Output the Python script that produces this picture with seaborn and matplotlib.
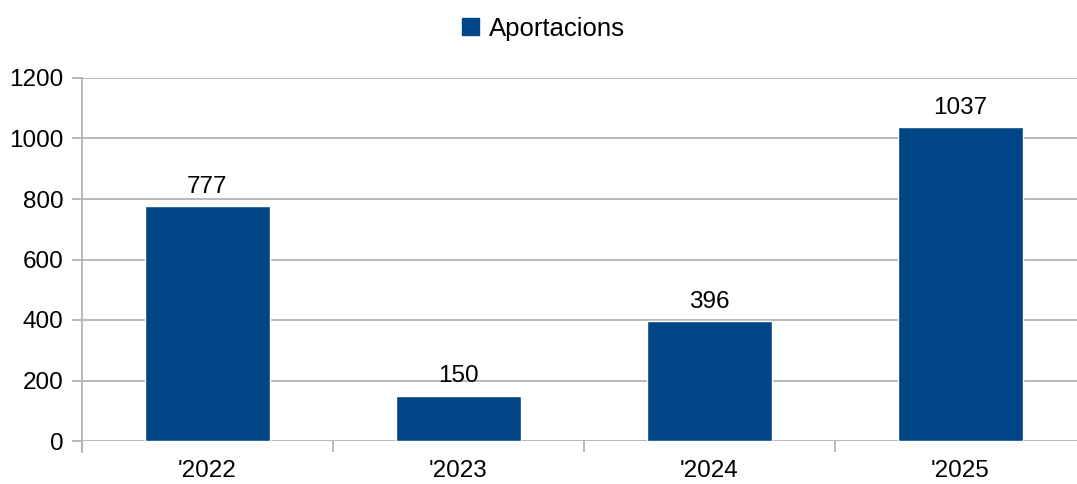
import pandas as pd
import matplotlib.pyplot as plt
import seaborn as sns
from matplotlib.patches import Patch

# Dades
anys = ["'2022", "'2023", "'2024", "'2025"]
aportacions = [777, 150, 396, 1037]
serie = "Aportacions"

df = pd.DataFrame({"Any": anys, serie: aportacions})

sns.set_style("white")
plt.rcParams['font.family'] = ['Liberation Sans', 'DejaVu Sans']
plt.rcParams['text.color'] = 'black'
plt.rcParams['xtick.color'] = 'black'
plt.rcParams['ytick.color'] = 'black'

blau = '#004586'
gris = '#b3b3b3'

fig = plt.figure(figsize=(10.77, 4.84), dpi=100)
# l'àrea del gràfic continua una mica més enllà de la vora dreta
ax = fig.add_axes([82 / 1077, 1 - 441 / 484, 1004 / 1077, 363 / 484])

sns.barplot(data=df, x="Any", y=serie, color=blau, width=0.5, saturation=1, ax=ax)

ax.set_xlim(-0.5, 3.5)
ax.set_ylim(0, 1200)
ax.set_yticks(range(0, 1201, 200))
ax.set_xlabel('')
ax.set_ylabel('')

ax.yaxis.grid(True, color=gris, linewidth=1.3)
ax.set_axisbelow(True)
for s in ['top', 'right', 'bottom']:
    ax.spines[s].set_visible(False)
ax.spines['left'].set_color(gris)
ax.spines['left'].set_linewidth(1.3)
ax.spines['left'].set_bounds(-36, 1200)

# marques de l'eix x als límits de categoria
ax.set_xticks([-0.5, 0.5, 1.5, 2.5, 3.5], minor=True)
ax.set_xticks(range(len(anys)))
ax.set_xticklabels(anys)
ax.tick_params(axis='x', which='major', bottom=True, length=0, labelsize=17.5, pad=14)
ax.tick_params(axis='x', which='minor', bottom=True, length=8, color=gris, width=1.3)
ax.tick_params(axis='y', left=True, length=7.2, color=gris, width=1.3, labelsize=17.5, pad=6)

for c in ax.containers:
    ax.bar_label(c, labels=[str(v) for v in aportacions], padding=6, fontsize=17.5)

fig.legend(handles=[Patch(color=blau, label=serie)], loc='upper center',
           bbox_to_anchor=(0.505, 1.013), frameon=False, fontsize=18.5,
           handlelength=0.65, handleheight=0.65, handletextpad=0.4)

fig.savefig('out.png', dpi=100)
